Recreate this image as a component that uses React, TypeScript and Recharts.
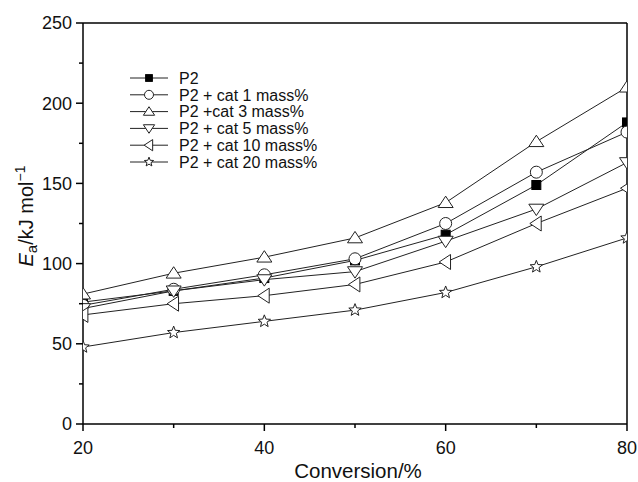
import React from "react";
import { LineChart, Line, XAxis, YAxis, ReferenceLine, Legend } from "recharts";

const conversion = [20, 30, 40, 50, 60, 70, 80];
const p2 = [76, 83, 91, 102, 118, 149, 188];
const cat1 = [74, 84, 93, 103, 125, 157, 182];
const cat3 = [81, 94, 104, 116, 138, 176, 210];
const cat5 = [72, 83, 90, 95, 114, 134, 163];
const cat10 = [68, 75, 80, 87, 101, 125, 147];
const cat20 = [48, 57, 64, 71, 82, 98, 116];

const xTicks = [20, 30, 40, 50, 60, 70, 80];
const yTicks = [0, 25, 50, 75, 100, 125, 150, 175, 200, 225, 250];

const seriesDefs = [
  { key: "p2", name: "P2", shape: "square", values: p2 },
  { key: "cat1", name: "P2 + cat 1 mass%", shape: "circle", values: cat1 },
  { key: "cat3", name: "P2 +cat 3 mass%", shape: "up", values: cat3 },
  { key: "cat5", name: "P2 + cat 5 mass%", shape: "down", values: cat5 },
  { key: "cat10", name: "P2 + cat 10 mass%", shape: "left", values: cat10 },
  { key: "cat20", name: "P2 + cat 20 mass%", shape: "star", values: cat20 },
];

const data = conversion.map((c, i) => {
  const row: any = { x: c };
  seriesDefs.forEach((s) => (row[s.key] = s.values[i]));
  return row;
});

const FONT = "'Liberation Sans', Arial, Helvetica, sans-serif";
const STROKE = "#222";

function Marker({ shape, cx, cy, k = 1 }: any) {
  if (cx == null || cy == null) return null;
  const common = { stroke: STROKE, strokeWidth: 1, fill: "#fff" };
  if (shape === "square") {
    const s = 9 * k;
    return <rect x={cx - s / 2} y={cy - s / 2} width={s} height={s} fill="#000" stroke="#000" />;
  }
  if (shape === "circle") return <circle cx={cx} cy={cy} r={6 * k} {...common} />;
  if (shape === "up") {
    const w = 7.5 * k, h = 6.5 * k;
    return <polygon points={`${cx},${cy - h} ${cx - w},${cy + h * 0.75} ${cx + w},${cy + h * 0.75}`} {...common} />;
  }
  if (shape === "down") {
    const w = 7.5 * k, h = 6.5 * k;
    return <polygon points={`${cx},${cy + h} ${cx - w},${cy - h * 0.75} ${cx + w},${cy - h * 0.75}`} {...common} />;
  }
  if (shape === "left") {
    const w = 7.5 * k, h = 6.5 * k;
    return <polygon points={`${cx - h},${cy} ${cx + h * 0.75},${cy - w} ${cx + h * 0.75},${cy + w}`} {...common} />;
  }
  const R = 6.5 * k, r = 2.8 * k;
  const pts: string[] = [];
  for (let i = 0; i < 10; i++) {
    const rad = i % 2 === 0 ? R : r;
    const a = -Math.PI / 2 + (i * Math.PI) / 5;
    pts.push(`${cx + rad * Math.cos(a)},${cy + rad * Math.sin(a)}`);
  }
  return <polygon points={pts.join(" ")} {...common} />;
}

const XTick = (props: any) => {
  const { x, y, payload } = props;
  const major = payload.value % 20 === 0;
  return (
    <g>
      <line x1={x} x2={x} y1={y} y2={y + (major ? 7 : 4)} stroke="#000" strokeWidth={1.5} />
      {major && (
        <text x={x} y={y + 30} textAnchor="middle" fontSize={18} fontFamily={FONT} fill="#111">
          {payload.value}
        </text>
      )}
    </g>
  );
};

const YTick = (props: any) => {
  const { x, y, payload } = props;
  const major = payload.value % 50 === 0;
  return (
    <g>
      <line x1={x} x2={x - (major ? 7 : 4)} y1={y} y2={y} stroke="#000" strokeWidth={1.5} />
      {major && (
        <text x={x - 11} y={y} dy="0.35em" textAnchor="end" fontSize={18} fontFamily={FONT} fill="#111">
          {payload.value}
        </text>
      )}
    </g>
  );
};

const YLabel = () => (
  <text transform="translate(33,216) rotate(-90)" textAnchor="middle" fontSize={20} fontFamily={FONT} fill="#111">
    <tspan fontStyle="italic">E</tspan>
    <tspan fontSize={15} dy={4}>a</tspan>
    <tspan dy={-4}>/kJ mol</tspan>
    <tspan fontSize={14} dy={-8}>−1</tspan>
  </text>
);

const XLabel = () => (
  <text x={358} y={478} textAnchor="middle" fontSize={20.5} fontFamily={FONT} fill="#111">
    Conversion/%
  </text>
);

const renderLegend = () => (
  <svg width={220} height={110} style={{ display: "block" }}>
    {seriesDefs.map((s, i) => {
      const cy = 8 + i * 16.8;
      return (
        <g key={s.key}>
          <line x1={0} x2={38} y1={cy} y2={cy} stroke={STROKE} strokeWidth={1} />
          <Marker shape={s.shape} cx={19} cy={cy} k={0.75} />
          <text x={49} y={cy} dy="0.36em" fontSize={16} fontFamily={FONT} fill="#111">
            {s.name}
          </text>
        </g>
      );
    })}
  </svg>
);

export default function App() {
  return (
    <div style={{ position: "absolute", left: 0, top: 0, width: 638, height: 482, overflow: "hidden" }}>
      <LineChart
        width={638}
        height={482}
        data={data}
        margin={{ top: 23, right: 11, left: 0, bottom: 18 }}
      >
        <XAxis
          dataKey="x"
          type="number"
          domain={[20, 80]}
          allowDataOverflow
          ticks={xTicks}
          tickSize={0}
          tickMargin={0}
          tickLine={false}
          tick={<XTick />}
          height={40}
          axisLine={{ stroke: "#000", strokeWidth: 1.5 }}
          label={<XLabel />}
        />
        <YAxis
          type="number"
          domain={[0, 250]}
          allowDataOverflow
          ticks={yTicks}
          tickSize={0}
          tickMargin={0}
          tickLine={false}
          tick={<YTick />}
          width={83}
          axisLine={{ stroke: "#000", strokeWidth: 1.5 }}
          label={<YLabel />}
          interval={0}
        />
        <ReferenceLine y={250} stroke="#000" strokeWidth={1.5} />
        <ReferenceLine x={80} stroke="#000" strokeWidth={1.5} />
        {seriesDefs.map((s) => (
          <Line
            key={s.key}
            dataKey={s.key}
            name={s.name}
            type="linear"
            stroke={STROKE}
            strokeWidth={1}
            isAnimationActive={false}
            dot={(p: any) => <Marker key={`${s.key}-${p.index}`} shape={s.shape} cx={p.cx} cy={p.cy} />}
            activeDot={false}
          />
        ))}
        <Legend
          layout="vertical"
          align="center"
          verticalAlign="middle"
          content={renderLegend}
          wrapperStyle={{ left: 130, top: 70, width: 220 }}
        />
      </LineChart>
    </div>
  );
}
